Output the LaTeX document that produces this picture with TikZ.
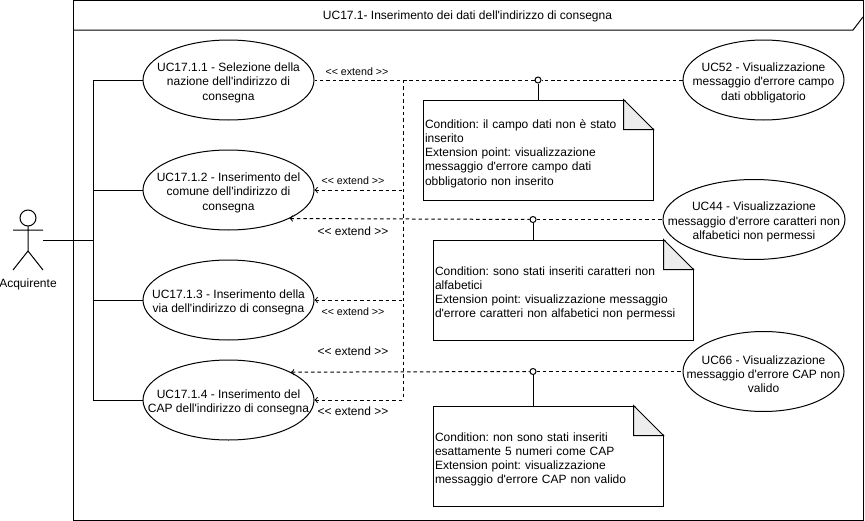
\documentclass[tikz,border=0pt]{standalone}
\usepackage{fontspec}
\newfontfamily\ucfont{Liberation Sans}
\usetikzlibrary{shapes.geometric,calc}

\newcommand{\ucsize}{\ucfont\fontsize{9}{10.7}\selectfont\frenchspacing}
\newcommand{\extendlabel}{<< extend >>}
\newcommand{\ucstrut}{\rule{0pt}{10.5pt}}

\tikzset{
  usecase/.style={draw, ellipse, inner xsep=-25pt, inner ysep=-12pt, align=center, minimum height=60pt, minimum width=#1, font=\ucsize},
  notebox/.style={draw, rectangle, inner xsep=1.5pt, inner ysep=0pt, align=left, minimum height=75pt, text width=#1, font=\ucsize, execute at begin node={\rule{0pt}{11.7pt}}},
  junction/.style={draw, circle, inner sep=0pt, minimum size=4.5pt},
  plain/.style={font=\ucsize},
  extsmall/.style={font=\ucfont\fontsize{8}{9}\selectfont},
  dep/.style={dash pattern=on 2.6pt off 2.2pt}
}

\begin{document}
\begin{tikzpicture}[x=0.75pt,y=-0.75pt,line width=0.75pt]
\useasboundingbox (0,0) rectangle (865,521);

% frame
\draw (73,0.5) rectangle (863,520);
\draw (73,30) -- (853,30) -- (863,17);
\node[plain] (title) at (467.5,16.5) {UC17.1- Inserimento dei dati dell'indirizzo di consegna};

% actor
\draw (28,218) circle (8);
\draw (28,226) -- (28,251) (13,230) -- (43,230) (13,270) -- (28,251) -- (43,270);
\node[plain] (acquirente) at (28,284) {Acquirente};
\coordinate (actorhand) at (43,240);
\coordinate (actortrunk) at (93,240);

% notes
\node[notebox=169.5pt] (note1) at (538,150) {Condition: il campo dati non è stato\\inserito\\Extension point: visualizzazione\\messaggio d'errore campo dati\\obbligatorio non inserito};
\node[notebox=192pt] (note2) at (563,290) {Condition: sono stati inseriti caratteri non\\alfabetici\\Extension point: visualizzazione messaggio\\d'errore caratteri non alfabetici non permessi};
\node[notebox=169.5pt] (note3) at (548,456) {Condition: non sono stati inseriti\\esattamente 5 numeri come CAP\\Extension point: visualizzazione\\messaggio d'errore CAP non valido};
\foreach \n in {note1,note2,note3} {
  \fill[white] ($(\n.north east)+(-30,-1)$) -- ($(\n.north east)+(1,-1)$) -- ($(\n.north east)+(1,30)$) -- cycle;
  \draw[fill=black!7] ($(\n.north east)+(-30,0)$) -- ($(\n.north east)+(0,30)$) -- ($(\n.north east)+(-30,30)$) -- cycle;
}

% use cases
\node[usecase=128.25pt] (uc1) at (228.5,80) {\ucstrut UC17.1.1 - Selezione della\\nazione dell'indirizzo di\\consegna};
\node[usecase=128.25pt] (uc2) at (228.5,190) {\ucstrut UC17.1.2 - Inserimento del\\comune dell'indirizzo di\\consegna};
\node[usecase=128.25pt] (uc3) at (228.5,300) {\ucstrut UC17.1.3 - Inserimento della\\via dell'indirizzo di consegna};
\node[usecase=128.25pt] (uc4) at (228.5,400) {\ucstrut UC17.1.4 - Inserimento del\\CAP dell'indirizzo di consegna};

\node[usecase=120.75pt] (uc52) at (763.5,80) {\ucstrut UC52 - Visualizzazione\\messaggio d'errore campo\\dati obbligatorio};
\node[usecase=136.5pt] (uc44) at (754,219.5) {\ucstrut UC44 - Visualizzazione\\messaggio d'errore caratteri non\\alfabetici non permessi};
\node[usecase=120.75pt] (uc66) at (763.5,371.5) {\ucstrut UC66 - Visualizzazione\\messaggio d'errore CAP non\\valido};

% actor lines
\coordinate (trunktop) at (93,80);
\coordinate (trunkbot) at (93,400);
\draw (actorhand) -- (actortrunk);
\draw (trunktop) -- (trunkbot);
\draw (trunktop) -- (uc1.west);
\draw (trunktop |- uc2.west) -- (uc2.west);
\draw (trunktop |- uc3.west) -- (uc3.west);
\draw (trunkbot) -- (uc4.west);

% extend lines
\node[junction] (j1) at (538,80) {};
\node[junction] (j2) at (533,219.5) {};
\node[junction] (j3) at (533,371.5) {};
\draw (j1) -- (j1 |- note1.north);
\draw (j2) -- (j2 |- note2.north);
\draw (j3) -- (j3 |- note3.north);
\draw[dep] (uc52.west) -- (j1) -- (uc1.east);
\draw[dep,<-] (uc2.-25) -- (j2);
\draw[dep] (j2) -- (uc44.west);
\draw[dep,<-] (uc4.24.5) -- (j3);
\draw[dep] (j3) -- (uc66.west);

\coordinate (vtop) at (403,80);
\coordinate (vbot) at (403,400);
\draw[dep] (vtop) -- (vbot);
\draw[dep,<-] (uc2.east) -- (vtop |- uc2.east);
\draw[dep,<-] (uc3.east) -- (vtop |- uc3.east);
\draw[dep,<-] (uc4.east) -- (vbot);

% labels
\node[extsmall] (ext1) at (357,71.5) {\extendlabel};
\node[extsmall] (ext2) at (353,181) {\extendlabel};
\node[plain] (ext3) at (353,231) {\extendlabel};
\node[extsmall] (ext4) at (353,311.5) {\extendlabel};
\node[plain] (ext5) at (353,351) {\extendlabel};
\node[plain] (ext6) at (353,411) {\extendlabel};
\end{tikzpicture}
\end{document}
